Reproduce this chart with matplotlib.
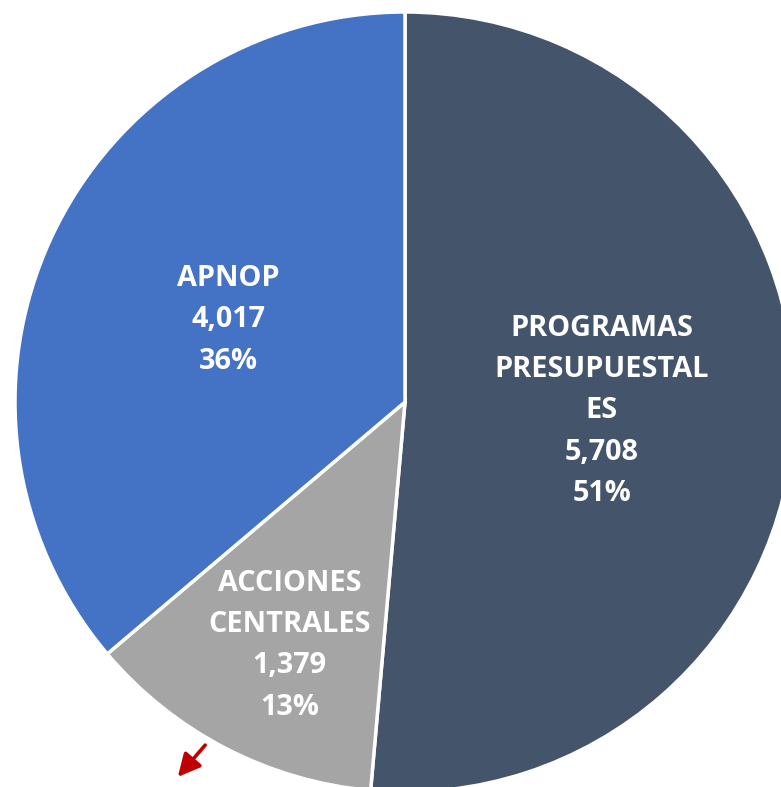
import numpy as np
import matplotlib
matplotlib.use("Agg")
import matplotlib.pyplot as plt

# -------------------------------------------------
# data
# -------------------------------------------------
categories = ["PROGRAMAS\nPRESUPUESTAL\nES", "ACCIONES\nCENTRALES", "APNOP"]
values = [5708, 1379, 4017]
pct_labels = ["51%", "13%", "36%"]
colors = ["#44546A", "#A5A5A5", "#4472C4"]

# -------------------------------------------------
# figure: axes fill the canvas, pie slightly clipped right/bottom
# -------------------------------------------------
W, H = 781, 787
cx, cy, R = 405, 402, 390   # pie centre / radius in pixels

fig = plt.figure(figsize=(W / 100, H / 100), dpi=100)
ax = fig.add_axes([0, 0, 1, 1])

wedges, _ = ax.pie(
    values,
    colors=colors,
    startangle=90,
    counterclock=False,
    radius=1.0,
    wedgeprops=dict(edgecolor="white", linewidth=2.5),
    frame=True,
)
ax.set_xlim(-cx / R, (W - cx) / R)
ax.set_ylim(-(H - cy) / R, cy / R)
ax.set_aspect("auto")
ax.axis("off")

# label distance from centre / small angle nudge for each slice
label_r = [0.505, 0.69, 0.50]
label_nudge = [0.0, 2.0, 0.0]

for w, cat, v, p, r, d in zip(wedges, categories, values, pct_labels,
                              label_r, label_nudge):
    ang = np.deg2rad((w.theta1 + w.theta2) / 2 + d)
    ax.text(
        r * np.cos(ang), r * np.sin(ang),
        f"{cat}\n{v:,}\n{p}",
        ha="center", va="center",
        color="white", fontsize=20.8, fontweight="bold",
        family="Open Sans", linespacing=1.56,
    )

# small red arrow at the bottom left
ax.annotate(
    "", xy=(176 / W, 1 - 779 / H), xytext=(207 / W, 1 - 743 / H),
    xycoords="figure fraction", textcoords="figure fraction",
    arrowprops=dict(arrowstyle="-|>", color="#C00000", lw=2.6,
                    mutation_scale=34),
)

fig.savefig("out.png", dpi=100)
